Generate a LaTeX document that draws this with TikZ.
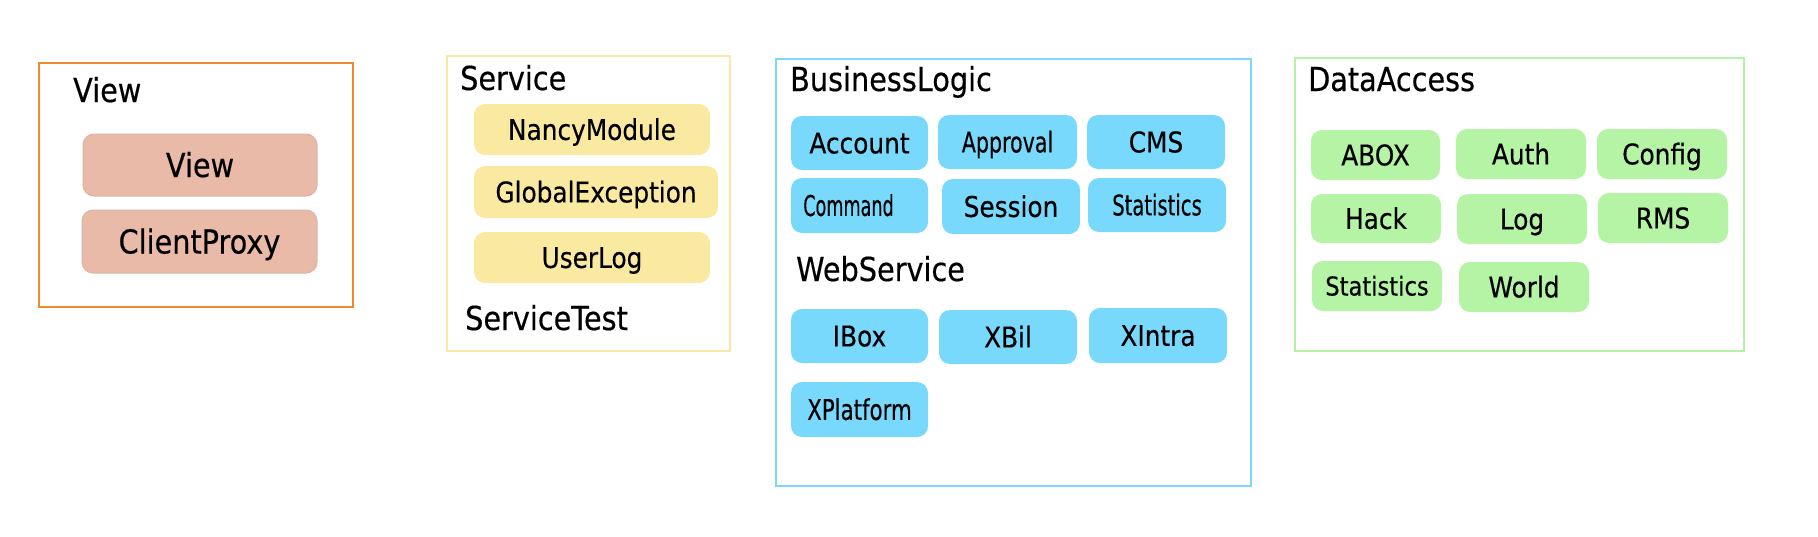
\documentclass[tikz,border=0pt]{standalone}
\usepackage{fontspec}
\usepackage{graphicx}
\setmainfont{DejaVu Sans}[FakeStretch=0.87, FakeBold=0.4]
\definecolor{orangeF}{HTML}{EC8A32}
\definecolor{pinkB}{HTML}{E8BAA7}
\definecolor{pinkD}{HTML}{DDB3A6}
\definecolor{yelF}{HTML}{FAE9A6}
\definecolor{yelB}{HTML}{F9E9A1}
\definecolor{blueF}{HTML}{7DD8FB}
\definecolor{blueB}{HTML}{78D9FC}
\definecolor{greenF}{HTML}{B4F2A6}
\definecolor{greenB}{HTML}{B4F4A4}
\tikzset{
  frame/.style={draw, line width=2.5pt, inner sep=0pt, rectangle},
  mbox/.style={rounded corners=11pt, inner sep=0pt, text depth=0pt, align=center},
  bigtxt/.style={font=\fontsize{33}{36}\selectfont, text height=24pt},
  smtxt/.style={font=\fontsize{28.5}{31}\selectfont, text height=20.8pt},
  lbl/.style={anchor=base west, inner sep=0pt, font=\fontsize{33}{36}\selectfont},
  pinkbox/.style={mbox, bigtxt, fill=pinkB, draw=pinkD, line width=1pt, minimum width=234pt, minimum height=62pt},
  yelbox/.style={mbox, smtxt, fill=yelB, minimum height=51pt},
  bluebox/.style={mbox, smtxt, fill=blueB, minimum width=138pt, minimum height=54pt},
  greenbox/.style={mbox, smtxt, fill=greenB, minimum width=130pt, minimum height=50pt}
}
\begin{document}
\begin{tikzpicture}[x=1pt,y=-1pt]
\useasboundingbox[fill=white] (0,0) rectangle (1818,536);
% frames
\node[frame, draw=orangeF, minimum width=314pt, minimum height=244pt] (fview) at (196,185) {};
\node[frame, draw=yelF, minimum width=283pt, minimum height=295pt] (fserv) at (588.5,203.5) {};
\node[frame, draw=blueF, minimum width=475pt, minimum height=427pt] (fbl) at (1013.5,272.5) {};
\node[frame, draw=greenF, minimum width=449pt, minimum height=293pt] (fda) at (1519.5,204.5) {};
% labels
\node[lbl] (lview) at (73,102) {View};
\node[lbl] (lserv) at (460,90) {Service};
\node[lbl] (lservt) at (465,330) {ServiceTest};
\node[lbl] (lbl1) at (790,91) {BusinessLogic};
\node[lbl] (lws) at (796,281) {WebService};
\node[lbl] (lda) at (1308,91) {DataAccess};
% view
\node[pinkbox] (view) at (200,165) {View};
\node[pinkbox, minimum width=235pt, minimum height=63pt] (cproxy) at (199.5,241.5) {ClientProxy};
% service
\node[yelbox, minimum width=236pt] (nancy) at (592,129.5) {NancyModule};
\node[yelbox, minimum width=244pt, minimum height=52pt] (globex) at (596,192) {GlobalException};
\node[yelbox, minimum width=236pt] (userlog) at (592,257.5) {UserLog};
% business logic
\node[bluebox, minimum width=137pt] (account) at (859.5,143) {Account};
\node[bluebox, minimum width=139pt] (approval) at (1007.5,142) {\scalebox{0.83}[1]{Approval}};
\node[bluebox] (cms) at (1156,142) {CMS};
\node[bluebox, minimum width=137pt, minimum height=55pt] (command) at (859.5,205.5) {\hspace*{-22pt}\scalebox{0.71}[1]{Command}};
\node[bluebox, minimum height=55pt] (session) at (1011,206.5) {Session};
\node[bluebox] (stats) at (1157,205) {\scalebox{0.79}[1]{Statistics}};
\node[bluebox, minimum width=137pt] (ibox) at (859.5,336) {IBox};
\node[bluebox] (xbil) at (1008,337) {XBil};
\node[bluebox, minimum height=55pt] (xintra) at (1158,335.5) {XIntra};
\node[bluebox, minimum width=137pt, minimum height=55pt] (xplat) at (859.5,409.5) {\scalebox{0.86}[1]{XPlatform}};
% data access
\node[greenbox, minimum width=129pt] (abox) at (1375.5,155) {ABOX};
\node[greenbox] (auth) at (1521,154) {Auth};
\node[greenbox] (config) at (1662,154) {Config};
\node[greenbox, minimum height=49pt] (hack) at (1376,218.5) {Hack};
\node[greenbox] (log) at (1522,219) {Log};
\node[greenbox] (rms) at (1663,218) {RMS};
\node[greenbox, font=\fontsize{26}{28}\selectfont, text height=19pt] (dastats) at (1377,286) {Statistics};
\node[greenbox] (world) at (1524,287) {World};
\end{tikzpicture}
\end{document}
